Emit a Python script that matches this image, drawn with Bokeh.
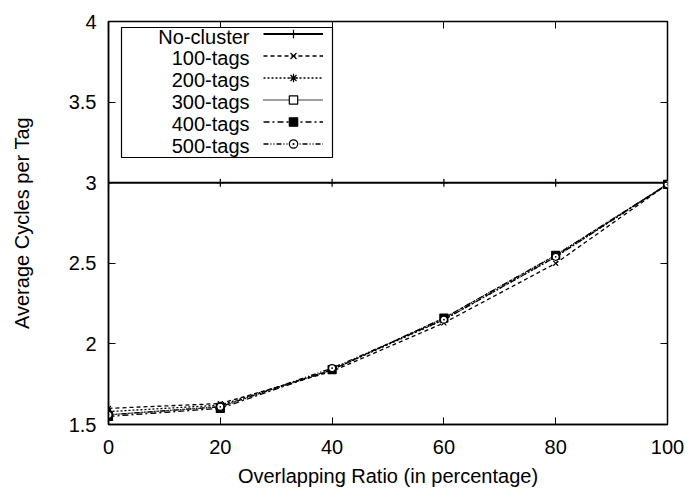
from bokeh.plotting import figure
from bokeh.models import (Range1d, FixedTicker, LinearAxis, Legend, LegendItem,
                          CustomJSTickFormatter, BoxAnnotation, Label)
from bokeh.embed import file_html
from bokeh.resources import INLINE

x_ratio = [0, 20, 40, 60, 80, 100]
no_cluster = [3.0, 3.0, 3.0, 3.0, 3.0, 3.0]
tags_100 = [1.60, 1.63, 1.83, 2.13, 2.50, 2.99]
tags_200 = [1.58, 1.62, 1.84, 2.15, 2.54, 2.99]
tags_300 = [1.56, 1.61, 1.84, 2.16, 2.55, 2.99]
tags_400 = [1.55, 1.60, 1.84, 2.16, 2.55, 2.99]
tags_500 = [1.56, 1.61, 1.85, 2.15, 2.54, 2.99]
x_ticks = [0, 20, 40, 60, 80, 100]
y_ticks = [1.5, 2, 2.5, 3, 3.5, 4]
series_names = ["No-cluster", "100-tags", "200-tags", "300-tags", "400-tags", "500-tags"]

FONT = "Liberation Sans"
FS = "20px"

p = figure(width=690, height=493, output_backend="svg", toolbar_location=None,
           x_range=Range1d(0, 100), y_range=Range1d(1.5, 4),
           min_border_left=108, min_border_right=23, min_border_top=21,
           min_border_bottom=69)
p.background_fill_color = "white"
p.border_fill_color = "white"
p.outline_line_color = "black"
p.outline_line_width = 1.5
p.xgrid.visible = False
p.ygrid.visible = False

fmt = CustomJSTickFormatter(code="return tick.toString();")
for ax, ticks in ((p.xaxis[0], x_ticks), (p.yaxis[0], y_ticks)):
    ax.ticker = FixedTicker(ticks=ticks)
    ax.formatter = fmt
    ax.major_tick_in = 7
    ax.major_tick_out = 0
    ax.minor_tick_line_color = None
    ax.axis_line_color = "black"
    ax.axis_line_width = 1.5
    ax.major_tick_line_width = 1
    ax.major_label_text_font = FONT
    ax.major_label_text_font_size = FS
    ax.major_label_text_color = "black"
    ax.axis_label_text_font = FONT
    ax.axis_label_text_font_size = FS
    ax.axis_label_text_font_style = "normal"
    ax.axis_label_text_color = "black"

p.xaxis.axis_label = "Overlapping Ratio (in percentage)"
p.yaxis.axis_label = "Average Cycles per Tag"
p.xaxis.major_label_standoff = 15
p.xaxis.axis_label_standoff = 8
p.yaxis.major_label_standoff = 12
p.yaxis.axis_label_standoff = 33

# mirrored ticks (no labels)
blank = CustomJSTickFormatter(code="return '';")
top = LinearAxis(ticker=FixedTicker(ticks=x_ticks), formatter=blank,
                 major_tick_in=7, major_tick_out=0, minor_tick_line_color=None,
                 axis_line_color=None, major_label_standoff=0)
right = LinearAxis(ticker=FixedTicker(ticks=y_ticks), formatter=blank,
                   major_tick_in=7, major_tick_out=0, minor_tick_line_color=None,
                   axis_line_color=None, major_label_standoff=0)
p.add_layout(top, "above")
p.add_layout(right, "right")

series_values = [no_cluster, tags_100, tags_200, tags_300, tags_400, tags_500]
styles = [
    ("solid", "cross", 2.0, 8, None),
    ("4 3", "x", 1.3, 7, None),
    ("2 2", "asterisk", 1.3, 7, None),
    ("1 1", "square", 1.3, 7, "white"),
    ("6 3 2 3", "square", 1.3, 8, "black"),
    ("5 2 1 2 1 2", "circle_dot", 1.3, 7, "white"),
]
items = []
for name, ys, (dash, marker, lw, sz, fill) in zip(series_names, series_values, styles):
    r1 = p.line(x_ratio, ys, line_color="black", line_width=lw, line_dash=dash)
    r2 = p.scatter(x_ratio, ys, marker=marker, size=sz, line_color="black",
                   fill_color=fill, line_width=1.2)
    items.append(LegendItem(label=" ", renderers=[r1, r2]))

# legend frame (gnuplot style: labels on the left, samples on the right)
box = BoxAnnotation(left=121, right=332, top=27, bottom=157,
                    left_units="canvas", right_units="canvas",
                    top_units="canvas", bottom_units="canvas",
                    fill_color="white", fill_alpha=1.0,
                    line_color="black", line_width=1.2, line_alpha=1.0)
p.add_layout(box)

legend = Legend(items=items, location=(155, 270), orientation="vertical",
                label_text_font=FONT, label_text_font_size="1px",
                glyph_width=60, glyph_height=21, label_height=21, label_width=0,
                label_standoff=0, spacing=1, padding=0, margin=0,
                border_line_color=None, background_fill_alpha=0.0)
p.add_layout(legend, "center")

for i, name in enumerate(series_names):
    p.add_layout(Label(x=141, y=388 - 21.8 * i, x_units="screen", y_units="screen",
                       text=name, text_align="right", text_baseline="middle",
                       text_font=FONT, text_font_size=FS, text_color="black"))

open("out.html", "w").write(file_html(p, INLINE))
